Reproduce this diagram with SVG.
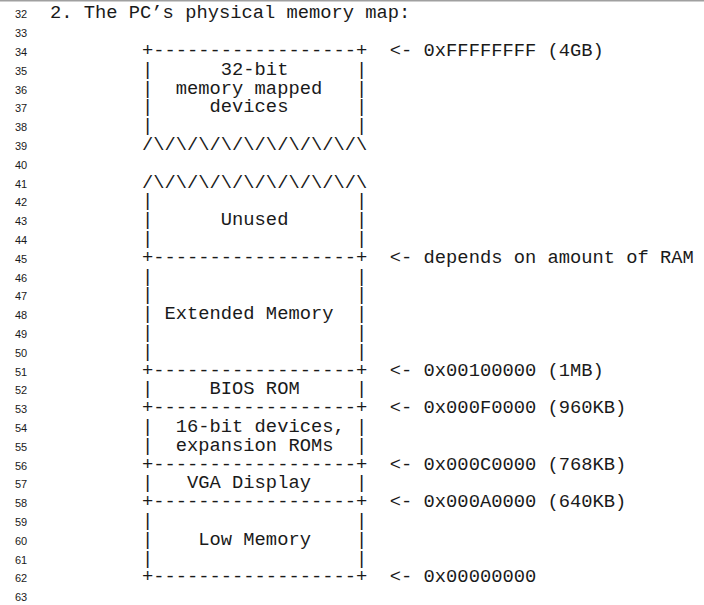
<svg xmlns="http://www.w3.org/2000/svg" width="704" height="605" viewBox="0 0 704 605">
<style>
.m{font-family:"Liberation Mono","Courier New",monospace;font-size:18.77px;fill:#1a1a1a;white-space:pre}
.n{font-family:"Liberation Sans",Arial,sans-serif;font-size:11px;fill:#1a1a1a}
</style>
<rect x="0" y="0" width="704" height="200" fill="#fff"/>
<rect x="0" y="0" width="704" height="605" fill="#fff"/>
<rect x="0" y="0" width="704" height="1.5" fill="#a0a0a0"/>
<g id="line-numbers" class="n">
<text x="15" y="18.3">32</text><text x="15" y="37.1">33</text><text x="15" y="55.9">34</text><text x="15" y="74.7">35</text>
<text x="15" y="93.5">36</text><text x="15" y="112.3">37</text><text x="15" y="131.1">38</text><text x="15" y="149.9">39</text>
<text x="15" y="168.7">40</text><text x="15" y="187.5">41</text><text x="15" y="206.3">42</text><text x="15" y="225.1">43</text>
<text x="15" y="243.9">44</text><text x="15" y="262.7">45</text><text x="15" y="281.5">46</text><text x="15" y="300.3">47</text>
<text x="15" y="319.1">48</text><text x="15" y="337.9">49</text><text x="15" y="356.7">50</text><text x="15" y="375.5">51</text>
<text x="15" y="394.3">52</text><text x="15" y="413.1">53</text><text x="15" y="431.9">54</text><text x="15" y="450.7">55</text>
<text x="15" y="469.5">56</text><text x="15" y="488.3">57</text><text x="15" y="507.1">58</text><text x="15" y="525.9">59</text>
<text x="15" y="544.7">60</text><text x="15" y="563.5">61</text><text x="15" y="582.3">62</text><text x="15" y="601.1">63</text>
</g>
<g id="title" class="m"><text x="50" y="18.3">2. The PC’s physical memory map:</text></g>
<g id="region-32bit-devices" class="m">
<text x="142" y="55.9" xml:space="preserve">+------------------+</text>
<text x="142" y="74.7" xml:space="preserve">|      32-bit      |</text>
<text x="142" y="93.5" xml:space="preserve">|  memory mapped   |</text>
<text x="142" y="112.3" xml:space="preserve">|     devices      |</text>
<text x="142" y="131.1" xml:space="preserve">|                  |</text>
<text x="142" y="149.9">/\/\/\/\/\/\/\/\/\/\</text>
</g>
<g id="region-unused" class="m">
<text x="142" y="187.5">/\/\/\/\/\/\/\/\/\/\</text>
<text x="142" y="206.3" xml:space="preserve">|                  |</text>
<text x="142" y="225.1" xml:space="preserve">|      Unused      |</text>
<text x="142" y="243.9" xml:space="preserve">|                  |</text>
</g>
<g id="region-extended-memory" class="m">
<text x="142" y="262.7" xml:space="preserve">+------------------+</text>
<text x="142" y="281.5" xml:space="preserve">|                  |</text>
<text x="142" y="300.3" xml:space="preserve">|                  |</text>
<text x="142" y="319.1" xml:space="preserve">| Extended Memory  |</text>
<text x="142" y="337.9" xml:space="preserve">|                  |</text>
<text x="142" y="356.7" xml:space="preserve">|                  |</text>
</g>
<g id="region-bios-rom" class="m">
<text x="142" y="375.5" xml:space="preserve">+------------------+</text>
<text x="142" y="394.3" xml:space="preserve">|     BIOS ROM     |</text>
</g>
<g id="region-16bit-devices" class="m">
<text x="142" y="413.1" xml:space="preserve">+------------------+</text>
<text x="142" y="431.9" xml:space="preserve">|  16-bit devices, |</text>
<text x="142" y="450.7" xml:space="preserve">|  expansion ROMs  |</text>
</g>
<g id="region-vga-display" class="m">
<text x="142" y="469.5" xml:space="preserve">+------------------+</text>
<text x="142" y="488.3" xml:space="preserve">|   VGA Display    |</text>
</g>
<g id="region-low-memory" class="m">
<text x="142" y="507.1" xml:space="preserve">+------------------+</text>
<text x="142" y="525.9" xml:space="preserve">|                  |</text>
<text x="142" y="544.7" xml:space="preserve">|    Low Memory    |</text>
<text x="142" y="563.5" xml:space="preserve">|                  |</text>
<text x="142" y="582.3" xml:space="preserve">+------------------+</text>
</g>
<g id="connectors" class="m">
<text x="389.8" y="55.9">&lt;- 0xFFFFFFFF (4GB)</text>
<text x="389.8" y="262.7">&lt;- depends on amount of RAM</text>
<text x="389.8" y="375.5">&lt;- 0x00100000 (1MB)</text>
<text x="389.8" y="413.1">&lt;- 0x000F0000 (960KB)</text>
<text x="389.8" y="469.5">&lt;- 0x000C0000 (768KB)</text>
<text x="389.8" y="507.1">&lt;- 0x000A0000 (640KB)</text>
<text x="389.8" y="582.3">&lt;- 0x00000000</text>
</g>
</svg>
